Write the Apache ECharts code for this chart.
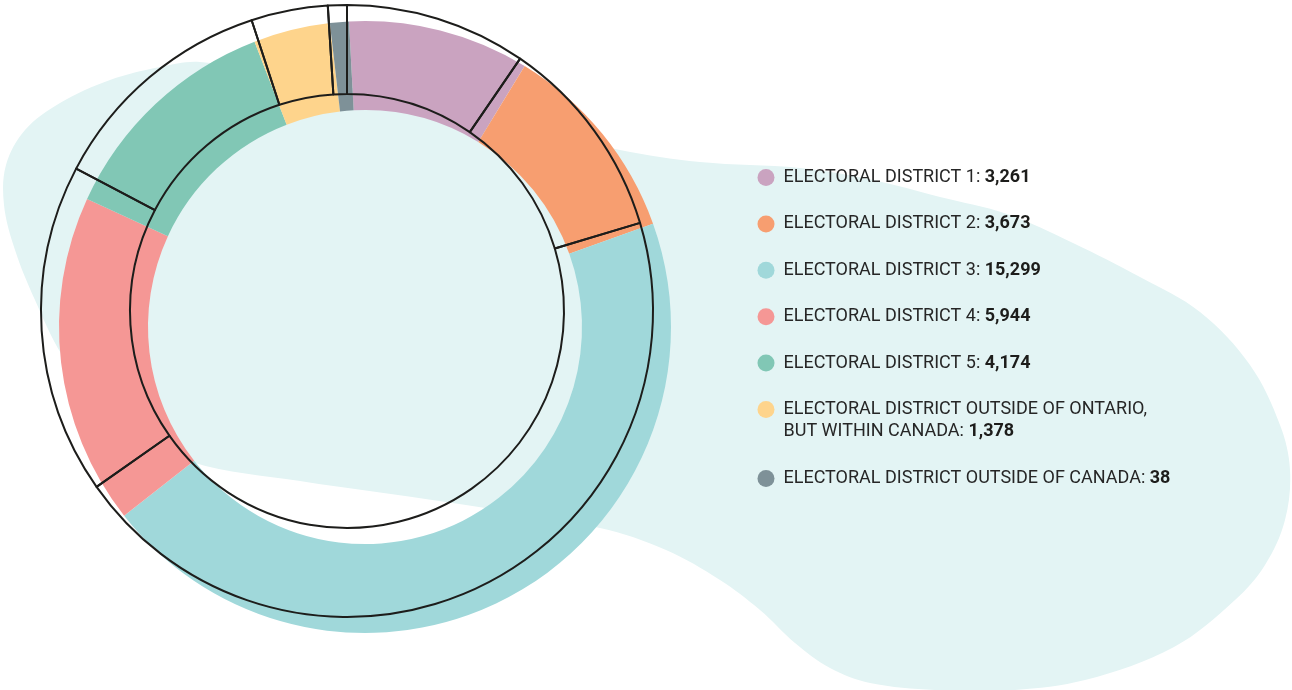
<!DOCTYPE html>
<html>
<head>
<meta charset="utf-8">
<script src="https://cdn.jsdelivr.net/npm/echarts@6/dist/echarts.min.js"></script>
<style>
  html, body { margin: 0; padding: 0; background: #fff; }
  #chart { width: 1292px; height: 690px; }
</style>
</head>
<body>
<div id="chart"></div>
<script>
const districts = [
  'ELECTORAL DISTRICT 1',
  'ELECTORAL DISTRICT 2',
  'ELECTORAL DISTRICT 3',
  'ELECTORAL DISTRICT 4',
  'ELECTORAL DISTRICT 5',
  'ELECTORAL DISTRICT OUTSIDE OF ONTARIO, BUT WITHIN CANADA',
  'ELECTORAL DISTRICT OUTSIDE OF CANADA'
]
const votes = [3261, 3673, 15299, 5944, 4174, 1378, 38]
const sliceColors = ['#caa3c0', '#f79e70', '#a0d8da', '#f59795', '#81c7b5', '#fed48c', '#7e9198']

// background blob outline (decoration only)
const blobPoints = [
  [200, 62], [300, 78], [420, 102], [530, 128], [620, 150], [700, 162], [800, 168],
  [873, 180], [940, 197], [1007, 214], [1073, 243], [1140, 277], [1200, 312],
  [1250, 365], [1280, 425], [1290, 470], [1285, 520], [1265, 565], [1235, 600],
  [1174, 647], [1085, 680], [1000, 691], [935, 690], [870, 683], [830, 668],
  [795, 643], [760, 610], [720, 580], [666, 550], [600, 528], [446, 502],
  [300, 481], [192, 462], [110, 420], [62, 355], [35, 300], [15, 250], [4, 205],
  [6, 165], [25, 130], [60, 103], [110, 80], [160, 67]
]

const INK = '#1d1d1b'
const fmt = v => v.toLocaleString('en-US')

const pieData = districts.map((name, i) => ({
  name,
  value: votes[i],
  itemStyle: { color: sliceColors[i] }
}))

function legendLabel(name) {
  const i = districts.indexOf(name)
  const label = name.replace(', ', ',\n')
  return '{t|' + label + ': }{v|' + fmt(votes[i]) + '}'
}

const legendText = (lh) => ({
  fontFamily: 'Roboto',
  fontSize: 18,
  color: '#262626',
  rich: {
    t: { fontFamily: 'Roboto', fontSize: 18, color: '#262626', lineHeight: lh },
    v: { fontFamily: 'Roboto', fontSize: 18, fontWeight: 'bold', color: INK, lineHeight: lh }
  }
})

const legendBase = {
  orient: 'vertical',
  left: 757.5,
  padding: 0,
  icon: 'circle',
  itemWidth: 25,
  itemHeight: 17,
  selectedMode: false,
  formatter: legendLabel
}

const chart = echarts.init(document.getElementById('chart'))
chart.setOption({
  animation: false,
  graphic: [{
    type: 'polygon',
    z: 0,
    silent: true,
    shape: { points: blobPoints, smooth: 0.35 },
    style: { fill: '#e3f4f4' }
  }],
  legend: [
    Object.assign({}, legendBase, {
      top: 168.5,
      itemGap: 28.4,
      data: districts.slice(0, 5),
      textStyle: legendText(17)
    }),
    Object.assign({}, legendBase, {
      top: 400.5,
      data: districts.slice(5, 6),
      textStyle: Object.assign(legendText(22), { padding: [22, 0, 0, 0] })
    }),
    Object.assign({}, legendBase, {
      top: 469.5,
      data: districts.slice(6),
      textStyle: legendText(17)
    })
  ],
  series: [
    {
      // coloured ring, shifted down-right
      type: 'pie',
      center: [365, 327],
      radius: [217, 306],
      startAngle: 93,
      clockwise: true,
      minAngle: 3.6,
      avoidLabelOverlap: false,
      label: { show: false },
      labelLine: { show: false },
      emphasis: { disabled: true },
      itemStyle: { borderWidth: 0 },
      data: pieData
    },
    {
      // black outline ring
      type: 'pie',
      center: [347, 311],
      radius: [217, 306],
      startAngle: 90,
      clockwise: true,
      minAngle: 3.6,
      avoidLabelOverlap: false,
      silent: true,
      label: { show: false },
      labelLine: { show: false },
      emphasis: { disabled: true },
      itemStyle: { color: 'rgba(0,0,0,0)', borderColor: INK, borderWidth: 2 },
      data: districts.map((name, i) => ({ name, value: votes[i] }))
    }
  ]
})
</script>
</body>
</html>
